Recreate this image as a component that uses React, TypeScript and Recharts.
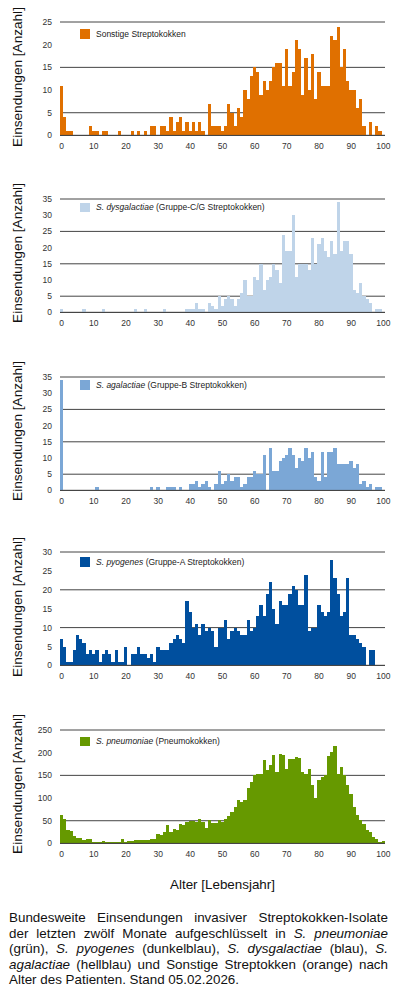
import React from "react";
import { BarChart, Bar, XAxis, YAxis, CartesianGrid } from "recharts";

// Alter in Lebensjahren (Kategorien der x-Achse)
const ALTER = [
  0, 1, 2, 3, 4, 5, 6, 7, 8, 9, 10, 11, 12, 13, 14, 15, 16, 17, 18, 19,
  20, 21, 22, 23, 24, 25, 26, 27, 28, 29, 30, 31, 32, 33, 34, 35, 36, 37, 38, 39,
  40, 41, 42, 43, 44, 45, 46, 47, 48, 49, 50, 51, 52, 53, 54, 55, 56, 57, 58, 59,
  60, 61, 62, 63, 64, 65, 66, 67, 68, 69, 70, 71, 72, 73, 74, 75, 76, 77, 78, 79,
  80, 81, 82, 83, 84, 85, 86, 87, 88, 89, 90, 91, 92, 93, 94, 95, 96, 97, 98, 99, 100,
];

// Einsendungen je Alter (Index = Alter)
const SONSTIGE = [
  11, 4, 1, 1, 0, 0, 0, 0, 0, 2, 1, 1, 0, 1, 1, 0, 0, 0, 1, 0,
  0, 0, 1, 0, 1, 0, 1, 0, 2, 2, 0, 2, 2, 1, 4, 1, 3, 4, 1, 3,
  1, 3, 1, 3, 1, 0, 7, 2, 2, 2, 1, 2, 7, 5, 2, 6, 4, 10, 8, 13,
  15, 14, 9, 12, 10, 12, 15, 16, 16, 11, 19, 11, 14, 21, 19, 9, 17, 10, 18, 8,
  14, 11, 11, 11, 22, 21, 24, 15, 19, 12, 10, 10, 6, 8, 2, 0, 3, 0, 2, 1, 0,
];

const DYSGALACTIAE = [
  1, 0, 0, 0, 0, 0, 0, 1, 0, 0, 0, 0, 0, 1, 0, 0, 0, 0, 0, 0,
  0, 0, 0, 1, 0, 0, 1, 0, 0, 0, 0, 0, 1, 0, 0, 0, 0, 0, 0, 1,
  1, 1, 3, 1, 1, 0, 3, 2, 1, 5, 2, 4, 5, 4, 2, 4, 6, 10, 5, 5,
  11, 10, 15, 7, 10, 11, 15, 13, 9, 24, 19, 19, 30, 11, 15, 15, 15, 13, 23, 15,
  21, 23, 19, 17, 22, 18, 34, 19, 22, 22, 18, 7, 6, 9, 5, 4, 3, 0, 1, 1, 0,
];

const AGALACTIAE = [
  34, 0, 0, 0, 0, 0, 0, 0, 0, 0, 0, 1, 0, 0, 0, 0, 0, 0, 0, 0,
  0, 0, 0, 0, 0, 0, 0, 0, 1, 0, 1, 0, 0, 1, 1, 1, 0, 1, 0, 0,
  2, 2, 3, 1, 2, 3, 1, 0, 2, 6, 2, 3, 5, 3, 4, 4, 1, 2, 4, 4,
  6, 5, 5, 11, 0, 13, 6, 6, 9, 10, 11, 13, 11, 7, 10, 9, 13, 10, 12, 4,
  3, 12, 4, 12, 12, 13, 8, 8, 8, 8, 9, 7, 8, 2, 3, 1, 2, 0, 1, 1, 0,
];

const PYOGENES = [
  7, 5, 1, 1, 4, 8, 7, 6, 3, 4, 3, 4, 1, 3, 4, 3, 1, 4, 1, 1,
  5, 0, 3, 3, 5, 3, 3, 2, 3, 1, 5, 4, 4, 4, 6, 7, 8, 7, 6, 17,
  14, 10, 11, 8, 11, 9, 10, 9, 5, 10, 10, 12, 7, 9, 10, 9, 8, 8, 12, 9,
  10, 13, 16, 13, 19, 22, 15, 11, 17, 16, 16, 19, 21, 20, 16, 16, 24, 9, 10, 10,
  16, 14, 13, 14, 28, 23, 19, 13, 14, 23, 8, 8, 7, 6, 5, 0, 4, 4, 0, 0, 0,
];

const PNEUMONIAE = [
  62, 53, 29, 27, 16, 12, 12, 7, 9, 9, 3, 4, 4, 6, 4, 3, 3, 3, 4, 10,
  3, 5, 5, 8, 8, 8, 7, 7, 10, 10, 21, 19, 25, 40, 26, 32, 30, 42, 40, 47,
  49, 49, 47, 54, 47, 34, 52, 46, 46, 51, 47, 53, 60, 69, 80, 95, 92, 95, 122, 135,
  151, 154, 154, 183, 161, 172, 194, 157, 198, 194, 164, 185, 185, 190, 188, 157, 154, 164, 128, 99,
  139, 146, 151, 193, 201, 215, 154, 168, 151, 128, 110, 80, 62, 51, 43, 29, 25, 14, 10, 3, 5,
];

const TICKS_25 = [0, 5, 10, 15, 20, 25];
const TICKS_35 = [0, 5, 10, 15, 20, 25, 30, 35];
const TICKS_30 = [0, 5, 10, 15, 20, 25, 30];
const TICKS_250 = [0, 50, 100, 150, 200, 250];

const FONT = '"Liberation Sans", Arial, sans-serif';
const CHART_W = 400;
const M_LEFT = 60;
const M_RIGHT = 15;
const PLOT_H = 113.4;
// Breite eines Kategorienbands (Recharts rundet die Balkenbreite ab, das gibt Luecken)
const BAND = (CHART_W - M_LEFT - M_RIGHT) / ALTER.length;

// Balken auf volle Bandbreite, an Pixelkanten gerundet, damit sie lueckenlos aneinanderstossen
function vollBalken(color: string) {
  return (p: any) => {
    if (!p.height || p.height <= 0) return <g />;
    const cx = p.x + p.width / 2;
    const x0 = Math.round(cx - BAND / 2);
    const x1 = Math.round(cx + BAND / 2);
    const y0 = Math.round(p.y);
    const y1 = Math.round(p.y + p.height);
    return (
      <rect
        x={x0}
        y={y0}
        width={Math.max(1, x1 - x0)}
        height={Math.max(1, y1 - y0)}
        fill={color}
        shapeRendering="crispEdges"
      />
    );
  };
}

function Panel({
  plotTop,
  values,
  color,
  ticks,
  legendTop,
  legend,
}: {
  plotTop: number;
  values: number[];
  color: string;
  ticks: number[];
  legendTop: number;
  legend: React.ReactNode;
}) {
  const rows = ALTER.map((a, i) => ({ alter: a, anzahl: values[i] }));
  const max = ticks[ticks.length - 1];
  return (
    <>
      <div style={{ position: "absolute", left: 0, top: plotTop - 10 }}>
        <BarChart
          width={CHART_W}
          height={10 + PLOT_H + 27.6}
          data={rows}
          margin={{ top: 10, right: M_RIGHT, bottom: 0, left: 0 }}
          barCategoryGap={0}
          barGap={0}
        >
          <CartesianGrid vertical={false} stroke="#444" />
          <XAxis
            dataKey="alter"
            interval={9}
            tickLine={false}
            axisLine={{ stroke: "#444" }}
            tick={{ fontSize: 8.5, fill: "#333", fontFamily: FONT }}
            height={27.6}
          />
          <YAxis
            domain={[0, max]}
            ticks={ticks}
            width={M_LEFT}
            tickLine={false}
            axisLine={false}
            tick={{ fontSize: 8.5, fill: "#333", fontFamily: FONT }}
          />
          <Bar
            dataKey="anzahl"
            fill={color}
            shape={vollBalken(color)}
            isAnimationActive={false}
          />
        </BarChart>
      </div>
      <div
        style={{
          position: "absolute",
          left: 80,
          top: legendTop,
          display: "flex",
          alignItems: "center",
          height: 9.5,
          fontSize: 8.5,
          color: "#222",
          whiteSpace: "nowrap",
        }}
      >
        <div style={{ width: 10, height: 9.5, background: color }} />
        <span style={{ marginLeft: 6 }}>{legend}</span>
      </div>
      <div
        style={{
          position: "absolute",
          left: 16.5,
          top: plotTop + PLOT_H / 2 - 2.5,
          transform: "translate(-50%, -50%) rotate(-90deg)",
          fontSize: 13.6,
          whiteSpace: "nowrap",
          color: "#111",
        }}
      >
        Einsendungen [Anzahl]
      </div>
    </>
  );
}

const ZEILEN = [
  <>Bundesweite Einsendungen invasiver Streptokokken-Isolate</>,
  <>
    der letzten zwölf Monate aufgeschlüsselt in <i>S. pneumoniae</i>
  </>,
  <>
    (grün), <i>S. pyogenes</i> (dunkelblau), <i>S. dysgalactiae</i> (blau), <i>S.</i>
  </>,
  <>
    <i>agalactiae</i> (hellblau) und Sonstige Streptokken (orange) nach
  </>,
];

export default function App() {
  return (
    <div
      style={{
        position: "absolute",
        left: 0,
        top: 0,
        width: 400,
        height: 997,
        background: "#fff",
        fontFamily: FONT,
        overflow: "hidden",
      }}
    >
      <Panel
        plotTop={22.3}
        values={SONSTIGE}
        color="#E07000"
        ticks={TICKS_25}
        legendTop={29}
        legend="Sonstige Streptokokken"
      />
      <Panel
        plotTop={199}
        values={DYSGALACTIAE}
        color="#BFD4E9"
        ticks={TICKS_35}
        legendTop={202.7}
        legend={
          <>
            <i>S. dysgalactiae</i> (Gruppe-C/G Streptokokken)
          </>
        }
      />
      <Panel
        plotTop={376.7}
        values={AGALACTIAE}
        color="#7BA7D6"
        ticks={TICKS_35}
        legendTop={380}
        legend={
          <>
            <i>S. agalactiae</i> (Gruppe-B Streptokokken)
          </>
        }
      />
      <Panel
        plotTop={552.3}
        values={PYOGENES}
        color="#004F9E"
        ticks={TICKS_30}
        legendTop={557}
        legend={
          <>
            <i>S. pyogenes</i> (Gruppe-A Streptokokken)
          </>
        }
      />
      <Panel
        plotTop={729.7}
        values={PNEUMONIAE}
        color="#669900"
        ticks={TICKS_250}
        legendTop={736.7}
        legend={
          <>
            <i>S. pneumoniae</i> (Pneumokokken)
          </>
        }
      />
      <div
        style={{
          position: "absolute",
          left: 222.5,
          top: 876.5,
          transform: "translateX(-50%)",
          fontSize: 13.4,
          lineHeight: "15.4px",
          whiteSpace: "nowrap",
          color: "#111",
        }}
      >
        Alter [Lebensjahr]
      </div>
      <div
        style={{
          position: "absolute",
          left: 9,
          top: 910.4,
          width: 379,
          fontSize: 13.4,
          lineHeight: "15.4px",
          color: "#111",
        }}
      >
        {ZEILEN.map((z, i) => (
          <div key={i} style={{ textAlign: "justify", textAlignLast: "justify", whiteSpace: "nowrap" }}>
            {z}
          </div>
        ))}
        <div>Alter des Patienten. Stand 05.02.2026.</div>
      </div>
    </div>
  );
}
